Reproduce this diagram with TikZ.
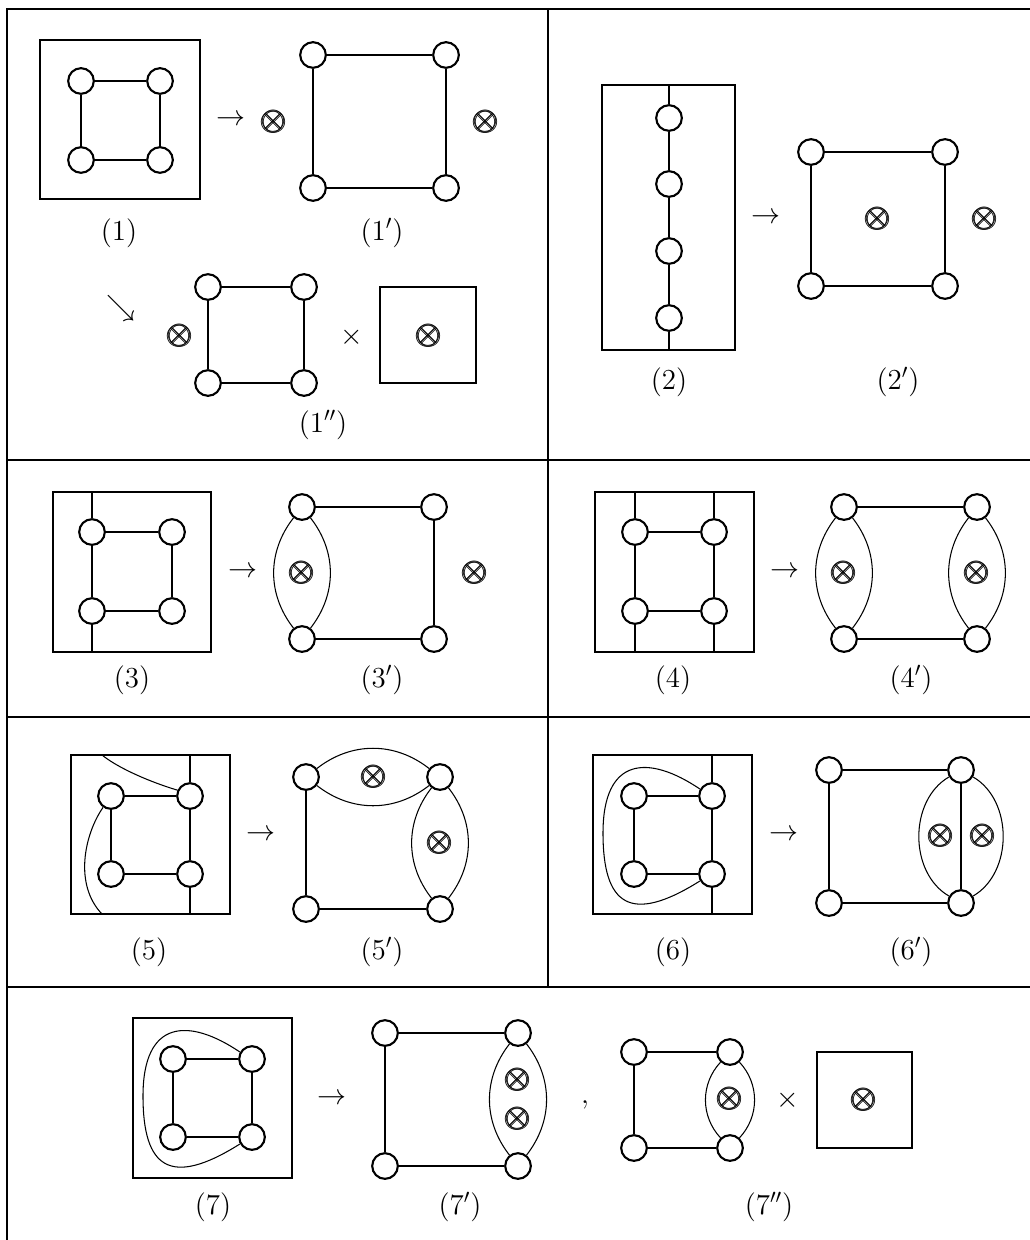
\RequirePackage{fix-cm}
\documentclass[tikz,border=0pt]{standalone}
\usepackage{amsmath,amssymb,bm}
\usepackage{tikz}

\tikzset{
  vtx/.style={circle,draw,line width=1.2pt,minimum size=14.6pt,inner sep=0pt},
  otim/.style={inner sep=0pt,font=\fontsize{19}{22}\selectfont},
  lab/.style={inner sep=0pt,font=\fontsize{16.5}{19}\selectfont},
  lens/.style={line width=0.6pt},
}
\newcommand{\otx}{$\pmb{\otimes}$}

\begin{document}
\begin{tikzpicture}[x=0.02cm,y=-0.02cm,line width=0.7pt]
  \useasboundingbox (0,0) rectangle (1030,1240);
  % table rules
  \draw (1030,9) -- (7,9) -- (7,1240);
  \foreach \yv in {460,717,987}
    \draw (7,\yv) -- (1030,\yv);
  \draw (548,9) -- (548,987);

  % (1) -> (1') and (1'')
  \draw (40,40) rectangle (200,199);
  \foreach \n/\xv/\yv in {a/81/81,b/160/81,c/81/160,d/160/160}
    \node[vtx] (q1\n) at (\xv,\yv) {};
  \draw (q1a) -- (q1b) -- (q1d) -- (q1c) -- (q1a);
  \node[lab] (ar1) at (231,120) {$\rightarrow$};
  \node[otim] (o1a) at (274,122) {\otx};
  \foreach \n/\xv/\yv in {a/313/55,b/446/55,c/313/188,d/446/188}
    \node[vtx] (r1\n) at (\xv,\yv) {};
  \draw (r1a) -- (r1b) -- (r1d) -- (r1c) -- (r1a);
  \node[otim] (o1b) at (486,122) {\otx};
  \node[lab] (l1) at (119,233) {$(1)$};
  \node[lab] (l1p) at (382,233) {$(1')$};
  \node[lab] (ar1b) at (121,308) {$\searrow$};
  \node[otim] (o1c) at (180,336) {\otx};
  \foreach \n/\xv/\yv in {a/208/287,b/304/287,c/208/383,d/304/383}
    \node[vtx] (s1\n) at (\xv,\yv) {};
  \draw (s1a) -- (s1b) -- (s1d) -- (s1c) -- (s1a);
  \node[lab] (tm1) at (352,337) {$\times$};
  \draw (380,287) rectangle (476,383);
  \node[otim] (o1d) at (429,336) {\otx};
  \node[lab] (l1pp) at (323,425) {$(1'')$};

  % (2) -> (2')
  \draw (602,85) rectangle (735,350);
  \coordinate (t2) at (669,85);
  \coordinate (u2) at (669,350);
  \foreach \n/\yv in {a/118,b/184,c/251,d/318}
    \node[vtx] (q2\n) at (669,\yv) {};
  \draw (t2) -- (q2a) -- (q2b) -- (q2c) -- (q2d) -- (u2);
  \node[lab] (ar2) at (766,218) {$\rightarrow$};
  \foreach \n/\xv/\yv in {a/811/152,b/945/152,c/811/286,d/945/286}
    \node[vtx] (r2\n) at (\xv,\yv) {};
  \draw (r2a) -- (r2b) -- (r2d) -- (r2c) -- (r2a);
  \node[otim] (o2a) at (878,219) {\otx};
  \node[otim] (o2b) at (985,219) {\otx};
  \node[lab] (l2) at (669,382) {$(2)$};
  \node[lab] (l2p) at (898,382) {$(2')$};

  % (3) -> (3')
  \draw (53,492) rectangle (211,652);
  \coordinate (t3) at (92,492);
  \coordinate (u3) at (92,652);
  \foreach \n/\xv/\yv in {a/92/532,b/172/532,c/92/611,d/172/611}
    \node[vtx] (q3\n) at (\xv,\yv) {};
  \draw (t3) -- (q3a) -- (q3c) -- (u3);
  \draw (q3a) -- (q3b) -- (q3d) -- (q3c);
  \node[lab] (ar3) at (243,572) {$\rightarrow$};
  \foreach \n/\xv/\yv in {a/302/507,b/434/507,c/302/639,d/434/639}
    \node[vtx] (r3\n) at (\xv,\yv) {};
  \draw (r3a) -- (r3b) -- (r3d) -- (r3c);
  \draw[lens] (r3a) to[bend left=38] (r3c);
  \draw[lens] (r3a) to[bend right=38] (r3c);
  \node[otim] (o3a) at (302,573) {\otx};
  \node[otim] (o3b) at (475,573) {\otx};
  \node[lab] (l3) at (132,680) {$(3)$};
  \node[lab] (l3p) at (382,680) {$(3')$};

  % (4) -> (4')
  \draw (595,492) rectangle (754,652);
  \coordinate (t4a) at (635,492);
  \coordinate (u4a) at (635,652);
  \coordinate (t4b) at (714,492);
  \coordinate (u4b) at (714,652);
  \foreach \n/\xv/\yv in {a/635/532,b/714/532,c/635/611,d/714/611}
    \node[vtx] (q4\n) at (\xv,\yv) {};
  \draw (t4a) -- (q4a) -- (q4c) -- (u4a);
  \draw (t4b) -- (q4b) -- (q4d) -- (u4b);
  \draw (q4a) -- (q4b);
  \draw (q4c) -- (q4d);
  \node[lab] (ar4) at (785,572) {$\rightarrow$};
  \foreach \n/\xv/\yv in {a/844/507,b/977/507,c/844/639,d/977/639}
    \node[vtx] (r4\n) at (\xv,\yv) {};
  \draw (r4a) -- (r4b);
  \draw (r4c) -- (r4d);
  \draw[lens] (r4a) to[bend left=38] (r4c);
  \draw[lens] (r4a) to[bend right=38] (r4c);
  \draw[lens] (r4b) to[bend left=38] (r4d);
  \draw[lens] (r4b) to[bend right=38] (r4d);
  \node[otim] (o4a) at (844,573) {\otx};
  \node[otim] (o4b) at (977,573) {\otx};
  \node[lab] (l4) at (673,680) {$(4)$};
  \node[lab] (l4p) at (911,680) {$(4')$};

  % (5) -> (5')
  \draw (71,755) rectangle (230,914);
  \coordinate (t5) at (190,755);
  \coordinate (u5) at (190,914);
  \coordinate (v5) at (102,755);
  \coordinate (w5) at (102,914);
  \foreach \n/\xv/\yv in {a/111/796,b/190/796,c/111/874,d/190/874}
    \node[vtx] (q5\n) at (\xv,\yv) {};
  \draw (t5) -- (q5b) -- (q5d) -- (u5);
  \draw (q5b) -- (q5a) -- (q5c) -- (q5d);
  \draw[lens] (v5) .. controls (118,768) and (150,782) .. (q5b.155);
  \draw[lens] (q5a.235) .. controls (84,835) and (74,885) .. (w5);
  \node[lab] (ar5) at (261,835) {$\rightarrow$};
  \foreach \n/\xv/\yv in {a/306/777,b/440/777,c/306/909,d/440/909}
    \node[vtx] (r5\n) at (\xv,\yv) {};
  \draw (r5a) -- (r5c) -- (r5d);
  \draw[lens] (r5a) to[bend left=38] (r5b);
  \draw[lens] (r5a) to[bend right=38] (r5b);
  \draw[lens] (r5b) to[bend left=38] (r5d);
  \draw[lens] (r5b) to[bend right=38] (r5d);
  \node[otim] (o5a) at (374,777) {\otx};
  \node[otim] (o5b) at (440,843) {\otx};
  \node[lab] (l5) at (149,952) {$(5)$};
  \node[lab] (l5p) at (382,952) {$(5')$};

  % (6) -> (6')
  \draw (593,755) rectangle (752,914);
  \coordinate (t6) at (712,755);
  \coordinate (u6) at (712,914);
  \foreach \n/\xv/\yv in {a/634/796,b/712/796,c/634/874,d/712/874}
    \node[vtx] (q6\n) at (\xv,\yv) {};
  \draw (t6) -- (q6b) -- (q6d) -- (u6);
  \draw (q6b) -- (q6a) -- (q6c) -- (q6d);
  \draw[lens] (q6b.150) .. controls (648,754) and (603,757) .. (603,833)
    .. controls (603,905) and (630,925) .. (q6d.210);
  \node[lab] (ar6) at (784,835) {$\rightarrow$};
  \foreach \n/\xv/\yv in {a/829/770,b/961/770,c/829/903,d/961/903}
    \node[vtx] (r6\n) at (\xv,\yv) {};
  \draw (r6b) -- (r6a) -- (r6c) -- (r6d);
  \draw (r6b) -- (r6d);
  \draw[lens] (r6b) to[bend left=60] (r6d);
  \draw[lens] (r6b) to[bend right=60] (r6d);
  \node[otim] (o6a) at (941,836) {\otx};
  \node[otim] (o6b) at (983,836) {\otx};
  \node[lab] (l6) at (673,952) {$(6)$};
  \node[lab] (l6p) at (911,952) {$(6')$};

  % (7) -> (7') , (7'')
  \draw (133,1018) rectangle (292,1178);
  \foreach \n/\xv/\yv in {a/173/1059,b/252/1059,c/173/1137,d/252/1137}
    \node[vtx] (q7\n) at (\xv,\yv) {};
  \draw (q7a) -- (q7b) -- (q7d) -- (q7c) -- (q7a);
  \draw[lens] (q7b.150) .. controls (188,1017) and (143,1020) .. (143,1096)
    .. controls (143,1168) and (170,1188) .. (q7d.210);
  \node[lab] (ar7) at (332,1099) {$\rightarrow$};
  \foreach \n/\xv/\yv in {a/385/1033,b/518/1033,c/385/1166,d/518/1166}
    \node[vtx] (r7\n) at (\xv,\yv) {};
  \draw (r7b) -- (r7a) -- (r7c) -- (r7d);
  \draw[lens] (r7b) to[bend left=38] (r7d);
  \draw[lens] (r7b) to[bend right=38] (r7d);
  \node[otim] (o7a) at (518,1080) {\otx};
  \node[otim] (o7b) at (518,1119) {\otx};
  \node[lab] (cm7) at (585,1105) {$,$};
  \foreach \n/\xv/\yv in {a/634/1052,b/730/1052,c/634/1148,d/730/1148}
    \node[vtx] (s7\n) at (\xv,\yv) {};
  \draw (s7b) -- (s7a) -- (s7c) -- (s7d);
  \draw[lens] (s7b) to[bend left=43] (s7d);
  \draw[lens] (s7b) to[bend right=43] (s7d);
  \node[otim] (o7c) at (730,1099) {\otx};
  \node[lab] (tm7) at (788,1100) {$\times$};
  \draw (817,1052) rectangle (912,1148);
  \node[otim] (o7d) at (864,1100) {\otx};
  \node[lab] (l7) at (213,1207) {$(7)$};
  \node[lab] (l7p) at (460,1207) {$(7')$};
  \node[lab] (l7pp) at (769,1207) {$(7'')$};
\end{tikzpicture}
\end{document}
